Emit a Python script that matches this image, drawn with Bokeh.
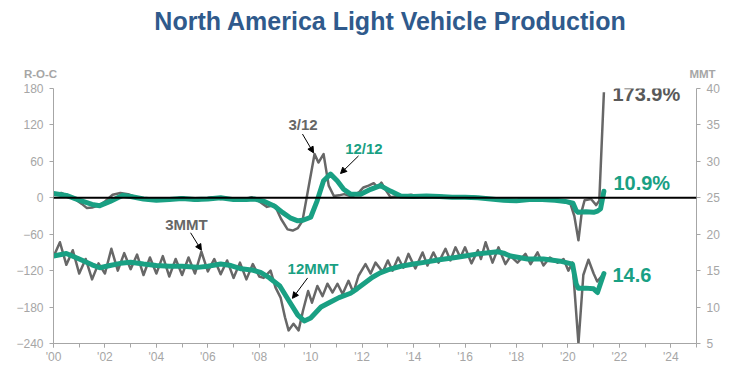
from bokeh.plotting import figure
from bokeh.layouts import column, row
from bokeh.models import (Range1d, LinearAxis, FixedTicker, CustomJSTickFormatter,
                          Label, Arrow, NormalHead, Span)
from bokeh.embed import file_html
from bokeh.resources import INLINE

# ---------------- data ----------------
# Rate of change (%) - 12/12 (teal, left axis)
roc12_x = [2000.0, 2000.5, 2001.0, 2001.5, 2001.8, 2002.2, 2002.7, 2003.0, 2003.5, 2004.0,
           2004.5, 2005.0, 2005.5, 2006.0, 2006.5, 2007.0, 2007.5, 2007.8, 2008.2, 2008.6,
           2008.9, 2009.2, 2009.5, 2009.7, 2010.0, 2010.25, 2010.5, 2010.77, 2011.03, 2011.28,
           2011.55, 2011.94, 2012.33, 2012.71, 2013.1, 2013.5, 2014.0, 2014.5, 2015.0, 2015.5,
           2016.0, 2016.5, 2017.0, 2017.5, 2018.0, 2018.5, 2019.0, 2019.5, 2019.9, 2020.2,
           2020.32, 2020.4, 2020.7, 2021.0, 2021.15, 2021.27, 2021.4]
roc12_y = [7, 4, -4, -11, -13, -6, 4, 2, -2, -4,
           -3, -1, -3, -2, 0, -3, -3, -2, -6, -14,
           -24, -33, -38, -37, -32, -5, 28, 39, 28, 14,
           6, 6, 14, 20, 11, 3, 2, 3, 2, 1,
           1, 0, -2, -4, -5, -3, -3, -4, -6, -9,
           -21, -24, -23, -24, -22, -18, 10.9]

# Rate of change (%) - 3/12 (gray, left axis)
roc3_x = [2000.0, 2000.3, 2000.6, 2000.9, 2001.1, 2001.3, 2001.5, 2001.8, 2002.0, 2002.3,
          2002.6, 2002.9, 2003.2, 2003.5, 2003.8, 2004.1, 2004.4, 2004.7, 2005.0, 2005.3,
          2005.6, 2005.9, 2006.2, 2006.5, 2006.8, 2007.1, 2007.4, 2007.7, 2008.0, 2008.3,
          2008.6, 2008.85, 2009.1, 2009.3, 2009.5, 2009.68, 2010.15, 2010.3, 2010.5, 2010.7,
          2010.9, 2011.1, 2011.3, 2011.6, 2011.9, 2012.05, 2012.25, 2012.45, 2012.6, 2012.75,
          2012.9, 2013.1, 2013.3, 2013.6, 2013.9, 2014.2, 2014.5, 2014.8, 2015.1, 2015.4,
          2015.7, 2016.0, 2016.3, 2016.6, 2016.9, 2017.2, 2017.5, 2017.8, 2018.1, 2018.4,
          2018.7, 2019.0, 2019.3, 2019.6, 2019.9, 2020.1, 2020.25, 2020.41, 2020.55, 2020.65,
          2020.9, 2021.1, 2021.22, 2021.4]
roc3_y = [5, 8, 2, -4, -10, -17, -16, -12, -6, 5,
          8, 6, 1, -3, -4, -2, -5, -2, 1, -3,
          -5, -1, 1, -2, -1, -4, -3, 1, -6, -15,
          -12, -35, -52, -54, -50, -38, 72, 58, 72, 20,
          3, 4, 6, 2, 10, 17, 20, 24, 17, 25,
          14, 1, 2, 3, 5, 2, 4, 2, 3, 1,
          2, 0, 2, 0, -1, -3, -5, -6, -4, -5,
          -3, -2, -4, -3, -7, -10, -30, -70, -20, -4,
          -2, -12, -5, 173.9]

# Production (MMT) - 12MMT (teal, right axis)
mmt12_x = [2000.0, 2000.5, 2001.0, 2001.5, 2001.8, 2002.2, 2002.6, 2003.0, 2003.5, 2004.0,
           2004.5, 2005.0, 2005.6, 2006.0, 2006.5, 2006.9, 2007.3, 2007.7, 2008.05, 2008.4,
           2008.8, 2009.2, 2009.5, 2009.75, 2010.0, 2010.4, 2010.77, 2011.1, 2011.55, 2011.8,
           2012.1, 2012.4, 2012.7, 2013.0, 2013.5, 2014.0, 2014.35, 2015.0, 2015.63, 2016.0,
           2016.5, 2017.0, 2017.26, 2017.5, 2017.77, 2018.1, 2018.43, 2019.05, 2019.7, 2020.18,
           2020.32, 2020.4, 2020.7, 2021.0, 2021.15, 2021.4]
mmt12_y = [17.0, 17.35, 16.6, 15.8, 15.4, 15.7, 16.0, 16.15, 15.9, 15.7,
           15.6, 15.6, 15.45, 15.6, 15.9, 15.7, 15.25, 15.1, 14.75, 14.0,
           12.9, 10.6, 8.9, 8.1, 8.5, 10.0, 10.7, 11.3, 11.9, 12.5,
           13.3, 14.1, 14.7, 15.1, 15.6, 15.9, 16.1, 16.5, 16.8, 17.0,
           17.3, 17.5, 17.6, 17.4, 17.0, 16.8, 16.6, 16.6, 16.3, 15.9,
           13.2, 12.6, 12.6, 12.5, 12.0, 14.6]

# Production (MMT) - 3MMT (gray, right axis)
mmt3_x = [2000.0, 2000.25, 2000.5, 2000.75, 2001.0, 2001.25, 2001.5, 2001.75, 2002.0, 2002.25,
          2002.5, 2002.75, 2003.0, 2003.25, 2003.5, 2003.75, 2004.0, 2004.25, 2004.5, 2004.75,
          2005.0, 2005.25, 2005.5, 2005.75, 2006.0, 2006.25, 2006.5, 2006.75, 2007.0, 2007.25,
          2007.5, 2007.75, 2008.0, 2008.17, 2008.44, 2008.63, 2008.83, 2009.0, 2009.14, 2009.33,
          2009.53, 2009.7, 2009.9, 2010.05, 2010.26, 2010.46, 2010.65, 2010.85, 2011.04, 2011.24,
          2011.47, 2011.66, 2011.86, 2012.13, 2012.33, 2012.52, 2012.8, 2013.0, 2013.18, 2013.4,
          2013.6, 2013.8, 2014.07, 2014.35, 2014.54, 2014.77, 2014.97, 2015.24, 2015.43, 2015.63,
          2015.82, 2016.0, 2016.25, 2016.5, 2016.62, 2016.8, 2017.07, 2017.3, 2017.57, 2017.77,
          2018.04, 2018.35, 2018.55, 2018.82, 2019.05, 2019.3, 2019.6, 2019.83, 2020.02, 2020.18,
          2020.41, 2020.6, 2020.8, 2021.0, 2021.14, 2021.4]
mmt3_y = [16.9, 18.9, 15.8, 17.8, 14.6, 16.6, 13.8, 16.0, 14.6, 18.0,
          15.0, 17.4, 15.2, 17.2, 14.4, 16.8, 14.6, 17.0, 14.2, 16.6,
          14.4, 16.8, 14.6, 17.6, 14.9, 16.6, 14.5, 16.4, 14.0, 16.1,
          13.8, 15.9, 14.2, 14.0, 15.0, 12.7, 11.3, 8.6, 6.8, 7.7,
          6.8, 9.5, 12.2, 10.6, 12.9, 11.5, 13.2, 12.0, 13.2, 11.8,
          13.6, 12.0, 14.3, 15.9, 14.6, 16.1, 14.8, 16.4, 15.0, 16.8,
          15.4, 17.3, 15.3, 17.5, 15.7, 17.5, 16.1, 18.0, 16.4, 18.2,
          16.8, 18.2, 16.0, 17.8, 16.6, 18.9, 16.1, 18.2, 15.9, 17.0,
          16.1, 17.3, 15.9, 17.5, 15.7, 16.8, 16.1, 16.6, 15.0, 16.1,
          5.0, 14.4, 16.5, 14.6, 13.5, 14.6]

year_ticks = list(range(2000, 2025, 2))
year_minor = list(range(2000, 2026))
roc_ticks = [-240, -180, -120, -60, 0, 60, 120, 180]
mmt_ticks = [5, 10, 15, 20, 25, 30, 35, 40]

# ---------------- style ----------------
TEAL = "#19A083"
GRAY = "#676767"
AX = "#A6A6A6"
FONT = "Liberation Sans"
W = 730

# header figure (title + axis captions), pixel-like coordinates
hdr = figure(width=W, height=80, x_range=Range1d(0, W), y_range=Range1d(80, 0),
             output_backend="svg", toolbar_location=None,
             min_border_left=0, min_border_right=0, min_border_top=0, min_border_bottom=0,
             x_axis_location=None, y_axis_location=None)
hdr.outline_line_color = None
hdr.grid.visible = False

def hlab(x, y, text, color, size, align="center"):
    hdr.add_layout(Label(x=x, y=y, text=text, text_color=color, text_font=FONT,
                         text_font_size=size, text_font_style="bold",
                         text_align=align, text_baseline="middle"))

hlab(390, 20, "North America Light Vehicle Production", "#2F5A8C", "25px")
hlab(40, 73, "R-O-C", AX, "11.5px")
hlab(702, 73, "MMT", AX, "11.5px")

# main chart
p = figure(width=W, height=288, x_range=Range1d(2000, 2025), y_range=Range1d(-240, 180),
           output_backend="svg", toolbar_location=None,
           min_border_left=53, min_border_right=W - 696, min_border_top=8, min_border_bottom=25,
           x_axis_location=None, y_axis_location=None)
p.outline_line_color = None
p.grid.visible = False
p.extra_y_ranges = {"mmt": Range1d(5, 40)}

def style_axis(ax, ticks, minor=None):
    ax.ticker = FixedTicker(ticks=ticks, minor_ticks=minor or [])
    ax.axis_line_color = AX
    ax.axis_line_width = 1
    ax.major_tick_line_color = AX
    ax.minor_tick_line_color = AX
    ax.major_tick_in = 0
    ax.major_tick_out = 4
    ax.minor_tick_in = 0
    ax.minor_tick_out = 4 if minor else 0
    ax.major_label_text_color = AX
    ax.major_label_text_font = FONT
    ax.major_label_text_font_size = "12px"

left = LinearAxis()
style_axis(left, roc_ticks)
left.major_label_standoff = 6
p.add_layout(left, "left")

right = LinearAxis(y_range_name="mmt")
style_axis(right, mmt_ticks)
right.major_label_standoff = 6
p.add_layout(right, "right")

bottom = LinearAxis()
style_axis(bottom, year_ticks, year_minor)
bottom.major_label_standoff = 2
bottom.formatter = CustomJSTickFormatter(code="return \"'\" + String(Math.round(tick) % 100).padStart(2, '0');")
p.add_layout(bottom, "below")

# zero line
p.add_layout(Span(location=0, dimension="width", line_color="black", line_width=2))

# series
p.line(roc3_x, roc3_y, line_color=GRAY, line_width=2.5, line_join="round")
p.line(mmt3_x, mmt3_y, line_color=GRAY, line_width=2.5, line_join="round", y_range_name="mmt")
p.line(roc12_x, roc12_y, line_color=TEAL, line_width=5, line_join="round", line_cap="round")
p.line(mmt12_x, mmt12_y, line_color=TEAL, line_width=5, line_join="round", line_cap="round",
       y_range_name="mmt")

def lab(x, y, text, color, size, align="center", rng="default"):
    p.add_layout(Label(x=x, y=y, text=text, text_color=color, text_font=FONT,
                       text_font_size=size, text_font_style="bold",
                       text_align=align, text_baseline="middle", y_range_name=rng))

# annotations
lab(2009.70, 120, "3/12", GRAY, "15px")
lab(2012.07, 81.5, "12/12", TEAL, "15px")
lab(2005.17, 21.36, "3MMT", GRAY, "15px", rng="mmt")
lab(2010.09, 15.25, "12MMT", TEAL, "15px", rng="mmt")

lab(2021.73, 170.5, "173.9%", "#595959", "20px", align="left")
lab(2021.77, 23.9, "10.9%", TEAL, "20px", align="left")
lab(2021.73, 14.36, "14.6", TEAL, "20px", align="left", rng="mmt")

def arrow(x0, y0, x1, y1, rng="default"):
    p.add_layout(Arrow(end=NormalHead(size=6, fill_color="black", line_color="black"),
                       x_start=x0, y_start=y0, x_end=x1, y_end=y1,
                       line_color="black", line_width=1, y_range_name=rng))

arrow(2009.68, 105, 2010.11, 74)
arrow(2011.86, 69, 2011.16, 40)
arrow(2005.33, 20.2, 2005.75, 17.8, rng="mmt")
arrow(2009.88, 14.0, 2009.29, 11.2, rng="mmt")

layout = column(row(hdr, spacing=0), p, spacing=0)
open("out.html", "w").write(file_html(layout, INLINE))
